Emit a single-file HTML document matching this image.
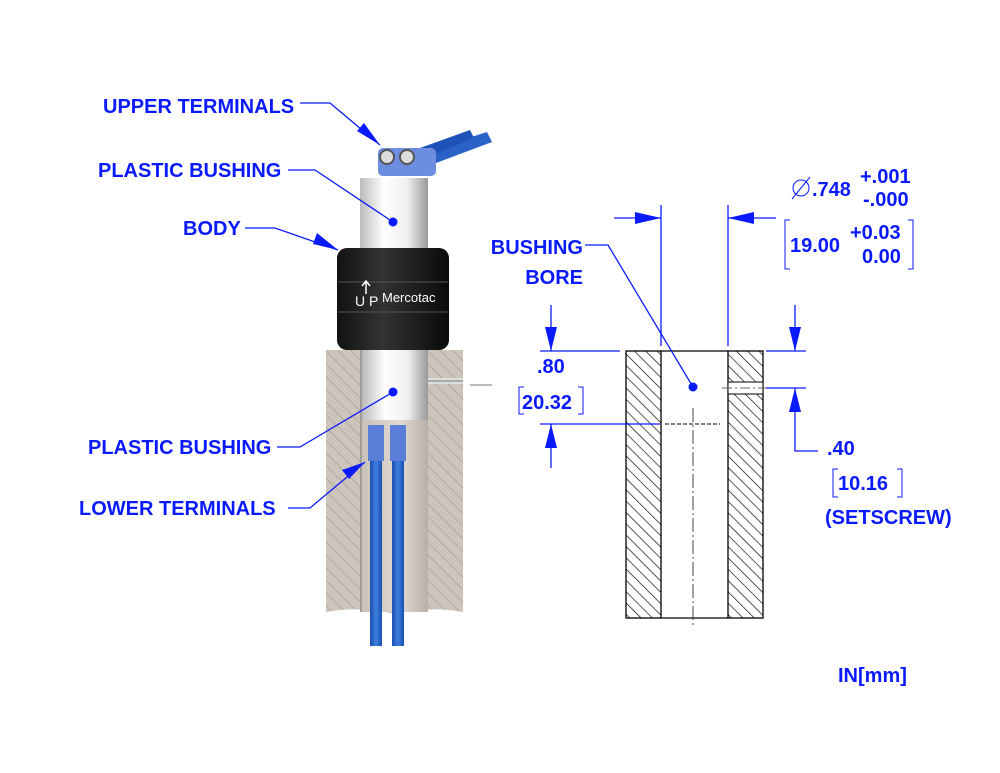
<!DOCTYPE html>
<html><head><meta charset="utf-8"><style>
html,body{margin:0;padding:0;background:#fff}
svg{display:block}
text{font-family:"Liberation Sans",Arial,sans-serif;font-weight:bold;fill:#0a1aff}
</style></head><body>
<svg width="1000" height="773" viewBox="0 0 1000 773" xmlns="http://www.w3.org/2000/svg">
<defs>
<pattern id="h1" width="9" height="9" patternUnits="userSpaceOnUse" patternTransform="rotate(-45)">
<rect width="9" height="9" fill="#cdc5bc"/><line x1="0" y1="0" x2="0" y2="9" stroke="#9a9088" stroke-width="1"/></pattern>
<pattern id="h2" width="8" height="8" patternUnits="userSpaceOnUse" patternTransform="rotate(-45)">
<rect width="8" height="8" fill="#fff"/><line x1="0" y1="0" x2="0" y2="8" stroke="#000" stroke-width="1.3"/></pattern>
<linearGradient id="wb" x1="0" x2="1"><stop offset="0" stop-color="#bbb"/><stop offset="0.35" stop-color="#fff"/><stop offset="0.7" stop-color="#eee"/><stop offset="1" stop-color="#999"/></linearGradient>
<linearGradient id="bk" x1="0" x2="1"><stop offset="0" stop-color="#111"/><stop offset="0.4" stop-color="#333"/><stop offset="1" stop-color="#0a0a0a"/></linearGradient>
<linearGradient id="bore" x1="0" x2="1"><stop offset="0" stop-color="#c8c0b8"/><stop offset="0.6" stop-color="#e0dad2"/><stop offset="1" stop-color="#b8b0a8"/></linearGradient>
<linearGradient id="bl" x1="0" x2="1"><stop offset="0" stop-color="#1a4fb0"/><stop offset="0.5" stop-color="#3d7fe0"/><stop offset="1" stop-color="#1a4fb0"/></linearGradient>
</defs>

<path d="M326 350 H463 V612 Q430 606 395 614 Q360 606 326 612 Z" fill="url(#h1)"/>
<rect x="360" y="350" width="68" height="262" fill="url(#bore)"/>
<line x1="361" y1="350" x2="361" y2="612" stroke="#777"/>
<rect x="428" y="378" width="35" height="6" fill="#ddd"/>
<line x1="428" y1="381" x2="463" y2="381" stroke="#777"/>
<line x1="470" y1="385" x2="492" y2="385" stroke="#777"/>
<rect x="362" y="350" width="66" height="70" fill="url(#wb)"/>
<rect x="370" y="450" width="12" height="196" fill="url(#bl)"/>
<rect x="392" y="450" width="12" height="196" fill="url(#bl)"/>
<rect x="368" y="425" width="16" height="36" fill="#5a7ed8"/>
<rect x="390" y="425" width="16" height="36" fill="#5a7ed8"/>
<rect x="360" y="178" width="68" height="75" fill="url(#wb)"/>
<path d="M430 150 L487 132 L492 142 L436 163 Z" fill="#2a62c8"/>
<path d="M420 148 L470 130 L474 138 L426 158 Z" fill="#1f52b8"/>
<rect x="378" y="148" width="58" height="28" rx="5" fill="#6d8ee0"/>
<circle cx="387" cy="157" r="7" fill="#ddd" stroke="#555" stroke-width="2"/>
<circle cx="407" cy="157" r="7" fill="#ddd" stroke="#555" stroke-width="2"/>
<rect x="337" y="248" width="112" height="102" rx="10" fill="url(#bk)"/>
<line x1="338" y1="282" x2="448" y2="282" stroke="#555"/>
<line x1="338" y1="312" x2="448" y2="312" stroke="#555"/>
<text x="355" y="306" style="fill:#fff;font-weight:normal;font-size:14px">U P</text>
<path d="M366 294 V282 M362 286 L366 281 L370 286" stroke="#fff" stroke-width="1.5" fill="none"/>
<text x="382" y="302" style="fill:#fff;font-weight:normal;font-size:13px">Mercotac</text>

<rect x="626" y="351" width="35" height="267" fill="url(#h2)" stroke="#000" stroke-width="1.3"/>
<rect x="728" y="351" width="35" height="267" fill="url(#h2)" stroke="#000" stroke-width="1.3"/>
<rect x="728" y="382" width="35" height="12" fill="#fff" stroke="#000" stroke-width="1"/>
<line x1="661" y1="351" x2="728" y2="351" stroke="#000" stroke-width="1.3"/>
<line x1="661" y1="618" x2="728" y2="618" stroke="#000" stroke-width="1.3"/>
<line x1="693" y1="408" x2="693" y2="625" stroke="#444" stroke-dasharray="14,3,2,3"/>
<line x1="665" y1="424" x2="720" y2="424" stroke="#000" stroke-dasharray="4,2"/>
<line x1="722" y1="388" x2="766" y2="388" stroke="#666" stroke-dasharray="10,3,2,3"/>

<g stroke="#0a1aff" stroke-width="1.3" fill="none">
<line x1="661" y1="205" x2="661" y2="346"/>
<line x1="728" y1="205" x2="728" y2="346"/>
<line x1="614" y1="218" x2="661" y2="218"/>
<line x1="728" y1="218" x2="776" y2="218"/>
<line x1="540" y1="351" x2="620" y2="351"/>
<line x1="540" y1="424" x2="660" y2="424"/>
<line x1="551" y1="305" x2="551" y2="351"/>
<line x1="551" y1="424" x2="551" y2="468"/>
<line x1="766" y1="351" x2="806" y2="351"/>
<line x1="766" y1="388" x2="806" y2="388"/>
<line x1="795" y1="305" x2="795" y2="351"/>
<polyline points="795,388 795,451 818,451"/>
<polyline points="300,103 330,103 380,145"/>
<polyline points="288,170 315,170 393,222"/>
<polyline points="245,228 275,228 338,250"/>
<polyline points="277,447 300,447 393,392"/>
<polyline points="288,508 310,508 365,462"/>
<polyline points="585,245 608,245 693,387"/>
<polyline points="790,220 785,220 785,269 790,269" stroke-width="1"/>
<polyline points="908,220 913,220 913,269 908,269" stroke-width="1"/>
<polyline points="524,387 519,387 519,414 524,414" stroke-width="1"/>
<polyline points="578,387 583,387 583,414 578,414" stroke-width="1"/>
<polyline points="838,469 833,469 833,497 838,497" stroke-width="1"/>
<polyline points="897,469 902,469 902,497 897,497" stroke-width="1"/>
<circle cx="801" cy="188" r="8" stroke-width="1"/>
<line x1="792" y1="199" x2="810" y2="177" stroke-width="1"/>
</g>
<g fill="#0a1aff">
<path d="M661 218 L635 212 L635 224 Z"/>
<path d="M728 218 L754 212 L754 224 Z"/>
<path d="M551 351 L545 327 L557 327 Z"/>
<path d="M551 424 L545 448 L557 448 Z"/>
<path d="M795 351 L789 327 L801 327 Z"/>
<path d="M795 388 L789 412 L801 412 Z"/>
<path d="M380 145 L357 131 L364 123 Z"/>
<path d="M338 250 L313 244 L317 233 Z"/>
<path d="M365 462 L349 479 L342 470 Z"/>
<circle cx="393" cy="222" r="4.5"/>
<circle cx="393" cy="392" r="4.5"/>
<circle cx="693" cy="387" r="4.5"/>
</g>

<g font-size="20">
<text x="103" y="113">UPPER TERMINALS</text>
<text x="98" y="177">PLASTIC BUSHING</text>
<text x="183" y="235">BODY</text>
<text x="88" y="454">PLASTIC BUSHING</text>
<text x="79" y="515">LOWER TERMINALS</text>
<text x="583" y="254" text-anchor="end">BUSHING</text>
<text x="583" y="284" text-anchor="end">BORE</text>
<text x="812" y="196">.748</text>
<text x="860" y="183">+.001</text>
<text x="863" y="206">-.000</text>
<text x="790" y="252">19.00</text>
<text x="850" y="239">+0.03</text>
<text x="862" y="263">0.00</text>
<text x="537" y="373">.80</text>
<text x="522" y="409">20.32</text>
<text x="827" y="455">.40</text>
<text x="838" y="490">10.16</text>
<text x="825" y="524">(SETSCREW)</text>
<text x="838" y="682">IN[mm]</text>
</g>
</svg>
</body></html>
